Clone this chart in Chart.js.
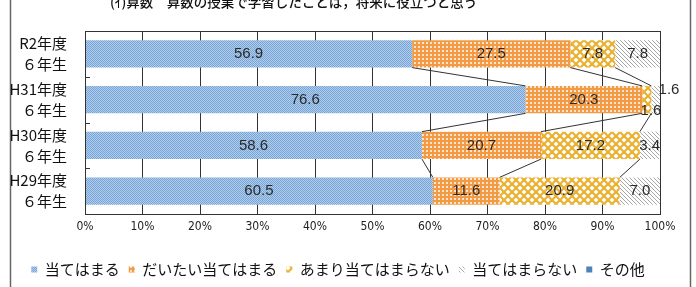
<!DOCTYPE html>
<html><head><meta charset="utf-8">
<script src="https://cdn.jsdelivr.net/npm/chart.js@4.4.0/dist/chart.umd.min.js"></script>
<style>html,body{margin:0;padding:0;background:#fff;}#wrap{width:696px;height:287px;position:relative;}</style>
</head><body><div id="wrap"><canvas id="c" width="696" height="287"></canvas></div>
<script>
const titleText = '(ｲ)算数　算数の授業で学習したことは，将来に役立つと思う';
const categories = [['R2年度','６年生'],['H31年度','６年生'],['H30年度','６年生'],['H29年度','６年生']];
const seriesNames = ['当てはまる','だいたい当てはまる','あまり当てはまらない','当てはまらない','その他'];
const s1 = [56.9, 76.6, 58.6, 60.5];
const s2 = [27.5, 20.3, 20.7, 11.6];
const s3 = [7.8, 1.6, 17.2, 20.9];
const s4 = [7.8, 1.6, 3.4, 7.0];
const s5 = [0, 0, 0, 0];
const xTicks = [0,10,20,30,40,50,60,70,80,90,100];

const cv = document.getElementById('c');
const ctx = cv.getContext('2d');
function pat(size, draw){const c=document.createElement('canvas');c.width=c.height=size;const g=c.getContext('2d');draw(g,size);return ctx.createPattern(c,'repeat');}
const pBlue = pat(2,(g)=>{g.fillStyle='#b0cdec';g.fillRect(0,0,2,2);g.fillStyle='#78a4d6';g.fillRect(0,0,1,1);g.fillRect(1,1,1,1);});
const pOrange = pat(4,(g)=>{g.fillStyle='#f39a45';g.fillRect(0,0,4,4);g.fillStyle='#fde4cc';g.fillRect(2,2,2,2);});
const pYellow = pat(8,(g)=>{g.fillStyle='#ffffff';g.fillRect(0,0,8,8);g.strokeStyle='#ecb030';g.lineWidth=2.2;
  for(const o of [-8,0,8]){g.beginPath();g.moveTo(o,0);g.lineTo(o+8,8);g.stroke();g.beginPath();g.moveTo(o+8,0);g.lineTo(o,8);g.stroke();}});
const pGray = pat(4,(g)=>{g.fillStyle='#ffffff';g.fillRect(0,0,4,4);g.strokeStyle='#a8a8a8';g.lineWidth=1;
  for(const o of [-4,0,4]){g.beginPath();g.moveTo(o,0);g.lineTo(o+4,4);g.stroke();}});
const fills = [pBlue,pOrange,pYellow,pGray,'#4f81bd'];
const seriesData = [s1,s2,s3,s4,s5];

const decor = {
  id:'decor',
  afterLayout(chart){ if(chart.legend){chart.legend.left+=8;chart.legend.right+=8;} },
  beforeDraw(chart){
    const c=chart.ctx;c.save();
    c.fillStyle='#fff';c.fillRect(0,0,chart.width,chart.height);
    c.strokeStyle='#666';c.lineWidth=1.5;
    c.beginPath();c.moveTo(10.5,0);c.lineTo(10.5,287);c.moveTo(690.5,0);c.lineTo(690.5,287);c.stroke();
    c.fillStyle='#111';c.font='500 13.5px "Noto Sans CJK JP"';c.textBaseline='alphabetic';c.textAlign='left';
    c.fillText(titleText,110,7);
    c.restore();
  },
  afterDatasetsDraw(chart){
    const c=chart.ctx;const a=chart.chartArea;const xs=chart.scales.x;
    c.save();
    c.strokeStyle='#333';c.lineWidth=1;
    c.strokeRect(a.left+0.5,a.top+0.5,a.right-a.left,a.bottom-a.top);
    const ys=chart.scales.y;
    c.beginPath();
    for(let i=1;i<categories.length;i++){const y=Math.round((ys.getPixelForValue(i-1)+ys.getPixelForValue(i))/2)+0.5;c.moveTo(a.left,y);c.lineTo(a.left+5,y);}
    c.stroke();
    const m0=chart.getDatasetMeta(0);
    c.strokeStyle='#333';c.beginPath();
    for(let i=0;i<categories.length-1;i++){
      const b0=m0.data[i], b1=m0.data[i+1];
      const yb=b0.y+b0.height/2, yt=b1.y-b1.height/2;
      let cA=0,cB=0;
      for(let k=0;k<3;k++){cA+=seriesData[k][i];cB+=seriesData[k][i+1];
        c.moveTo(xs.getPixelForValue(cA),yb);c.lineTo(xs.getPixelForValue(cB),yt);}
    }
    c.stroke();
    c.fillStyle='#2a2a2a';c.font='15px "Liberation Sans", Arial, sans-serif';c.textAlign='center';c.textBaseline='middle';
    for(let i=0;i<categories.length;i++){
      let cum=0;
      for(let k=0;k<4;k++){
        const v=seriesData[k][i];const b=chart.getDatasetMeta(k).data[i];
        const cx=xs.getPixelForValue(cum+v/2);cum+=v;
        if(!v) continue;
        let x=cx,y=b.y;
        if(i===1&&k===2){x=xs.getPixelForValue(100)-9;y=b.y+b.height/2-2;}
        else if(i===1&&k===3){x=xs.getPixelForValue(100)+9;y=b.y-10;}
        c.fillText(v.toFixed(1),x,y);
      }
    }
    c.restore();
  }
};

new Chart(cv,{
  type:'bar',
  data:{labels:categories,datasets:seriesNames.map((n,k)=>({label:n,data:seriesData[k],backgroundColor:fills[k],borderWidth:0,categoryPercentage:1,barPercentage:0.6}))},
  options:{
    indexAxis:'y',responsive:false,animation:false,devicePixelRatio:1,
    layout:{padding:{top:23,right:36,left:0,bottom:0}},
    plugins:{tooltip:{enabled:false},title:{display:false},
      legend:{position:'bottom',labels:{boxWidth:6,boxHeight:6,padding:9,color:'#111',font:{family:'"Noto Sans CJK JP"',size:15}}}},
    scales:{
      x:{stacked:true,min:0,max:100,afterBuildTicks(s){s.ticks=xTicks.map(v=>({value:v}));},
        ticks:{callback:v=>v+'%',color:'#222',padding:6,font:{family:'"DejaVu Sans Condensed","Liberation Sans Narrow",sans-serif',size:12}},
        grid:{color:'#333',lineWidth:1,drawTicks:false},border:{display:false},
        afterFit(s){s.height=39;}},
      y:{stacked:true,ticks:{color:'#111',padding:10,font:{family:'"Noto Sans CJK JP"',size:15,lineHeight:1.4}},
        grid:{display:false},border:{display:false},afterFit(s){s.width=85;}}
    }
  },
  plugins:[decor]
});
</script></body></html>
